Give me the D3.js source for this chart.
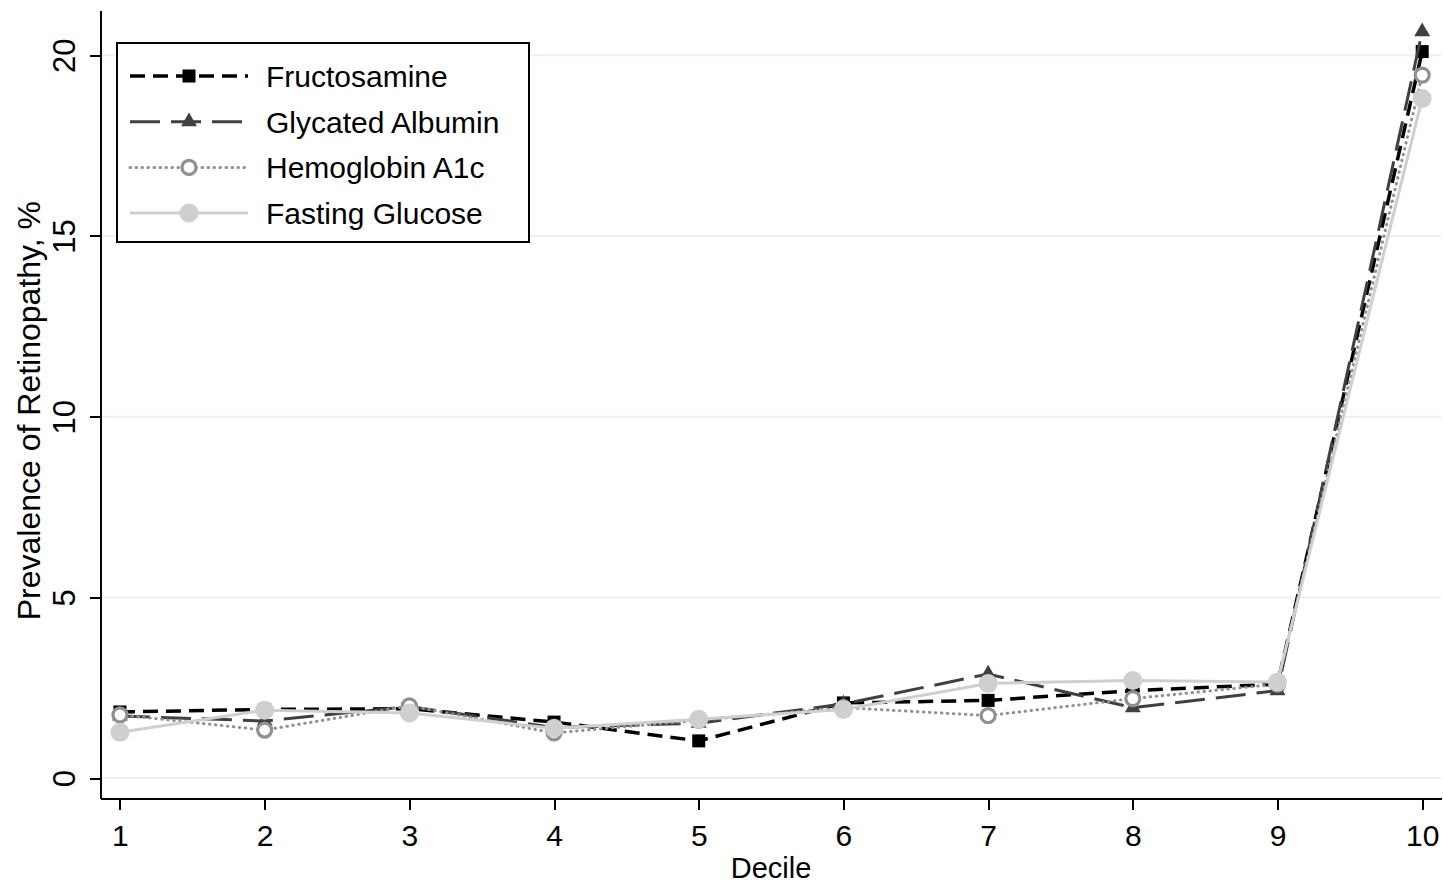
<!DOCTYPE html>
<html>

<head>
    <meta charset="UTF-8">
    <title>Retinopathy by decile</title>
    <style type="text/css">
        body {
            margin: 0;
            background: #fff;
        }

        svg text {
            font-family: "Liberation Sans", Arial, sans-serif;
            fill: #000;
        }

        .axis path,
        .axis line {
            stroke: #000;
            stroke-width: 2px;
            shape-rendering: crispEdges;
        }

        .grid line {
            stroke: #eaf2f3;
            stroke-width: 2px;
        }
    </style>
    <script src="https://d3js.org/d3.v7.min.js"></script>
</head>

<body>
    <script type="text/javascript">
        // Data
        const deciles = [1, 2, 3, 4, 5, 6, 7, 8, 9, 10];
        const yTicks = [0, 5, 10, 15, 20];
        const seriesNames = ["Fructosamine", "Glycated Albumin", "Hemoglobin A1c", "Fasting Glucose"];
        const fructosamine = [1.83, 1.9, 1.92, 1.55, 1.03, 2.08, 2.15, 2.42, 2.6, 20.1];
        const glycatedAlbumin = [1.72, 1.58, 1.98, 1.4, 1.52, 2.05, 2.88, 1.95, 2.42, 20.65];
        const hemoglobinA1c = [1.75, 1.33, 2.0, 1.25, 1.6, 1.95, 1.73, 2.2, 2.6, 19.45];
        const fastingGlucose = [1.27, 1.88, 1.8, 1.38, 1.63, 1.9, 2.62, 2.7, 2.66, 18.8];

        const styles = [
            { color: "#000000", width: 3.5, dash: "15,8", marker: "square" },
            { color: "#404040", width: 3, dash: "30,11", marker: "triangle" },
            { color: "#909090", width: 3, dash: "0.5,5.5", marker: "hollow", cap: "round" },
            { color: "#cfcfcf", width: 3, dash: null, marker: "dot" }
        ];
        const allSeries = [fructosamine, glycatedAlbumin, hemoglobinA1c, fastingGlucose];

        const W = 1443, H = 883;
        const svg = d3.select("body").append("svg")
            .attr("width", W)
            .attr("height", H);

        const x = d3.scaleLinear().domain([0.862, 10.13]).range([100, 1441]);
        const y = d3.scaleLinear().domain([-0.55, 21.25]).range([798, 10]);

        // gridlines
        svg.append("g").attr("class", "grid")
            .selectAll("line").data(yTicks).join("line")
            .attr("x1", x.range()[0]).attr("x2", x.range()[1])
            .attr("y1", d => y(d)).attr("y2", d => y(d));

        // x axis
        const xAxis = svg.append("g").attr("class", "axis")
            .attr("transform", `translate(0,${y.range()[0]})`)
            .call(d3.axisBottom(x).tickValues(deciles).tickSize(12).tickPadding(15).tickSizeOuter(0));
        xAxis.selectAll("text").style("font-size", "30px");

        // y axis
        const yAxis = svg.append("g").attr("class", "axis")
            .attr("transform", `translate(${x.range()[0]},0)`)
            .call(d3.axisLeft(y).tickValues(yTicks).tickSize(10).tickSizeOuter(0));
        yAxis.selectAll("text")
            .style("font-size", "31px")
            .attr("text-anchor", "middle")
            .attr("x", 0).attr("y", -25).attr("dy", 0)
            .attr("transform", "rotate(-90)");

        // axis titles
        svg.append("text")
            .attr("x", (x(1) + x(10)) / 2)
            .attr("y", 878)
            .attr("text-anchor", "middle")
            .style("font-size", "29px")
            .text("Decile");

        svg.append("text")
            .attr("transform", `translate(40,${(y(0) + y(20)) / 2 - 6}) rotate(-90)`)
            .attr("text-anchor", "middle")
            .style("font-size", "32px")
            .text("Prevalence of Retinopathy, %");

        function drawMarker(g, type, color, cx, cy) {
            if (type === "square") {
                g.append("rect").attr("x", cx - 6.5).attr("y", cy - 6.5)
                    .attr("width", 13).attr("height", 13).attr("fill", color);
            } else if (type === "triangle") {
                g.append("path").attr("d", d3.symbol(d3.symbolTriangle, 110)())
                    .attr("transform", `translate(${cx},${cy})`).attr("fill", color);
            } else if (type === "hollow") {
                g.append("circle").attr("cx", cx).attr("cy", cy).attr("r", 7)
                    .attr("fill", "#fff").attr("stroke", color).attr("stroke-width", 3.2);
            } else {
                g.append("circle").attr("cx", cx).attr("cy", cy).attr("r", 9.5)
                    .attr("fill", color);
            }
        }

        // series lines and markers
        const line = d3.line().x((d, i) => x(deciles[i])).y(d => y(d));
        allSeries.forEach((vals, k) => {
            const s = styles[k];
            const g = svg.append("g");
            g.append("path")
                .datum(vals)
                .attr("fill", "none")
                .attr("stroke", s.color)
                .attr("stroke-width", s.width)
                .attr("stroke-dasharray", s.dash)
                .attr("stroke-linecap", s.cap || "butt")
                .attr("d", line);
            vals.forEach((v, i) => drawMarker(g, s.marker, s.color, x(deciles[i]), y(v)));
        });

        // legend
        const legend = svg.append("g");
        legend.append("rect")
            .attr("x", 117).attr("y", 43).attr("width", 412).attr("height", 199)
            .attr("fill", "#fff").attr("stroke", "#000").attr("stroke-width", 2);
        seriesNames.forEach((name, k) => {
            const s = styles[k];
            const ry = 76 + k * 45.7;
            legend.append("line")
                .attr("x1", 130).attr("x2", 248).attr("y1", ry).attr("y2", ry)
                .attr("stroke", s.color).attr("stroke-width", s.width)
                .attr("stroke-dasharray", s.dash)
                .attr("stroke-linecap", s.cap || "butt");
            drawMarker(legend, s.marker, s.color, 189, ry);
            legend.append("text")
                .attr("x", 266).attr("y", ry).attr("dy", "0.36em")
                .style("font-size", "30px")
                .text(name);
        });
    </script>
</body>

</html>
